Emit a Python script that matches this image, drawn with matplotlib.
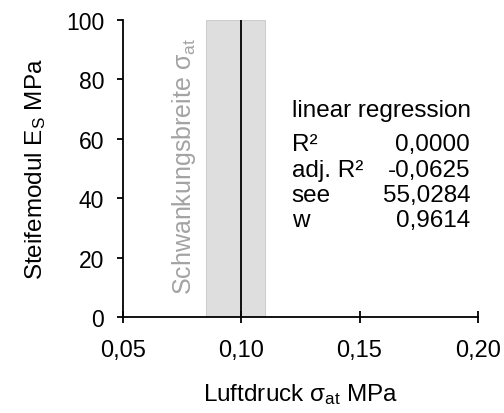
import matplotlib
matplotlib.use("Agg")
import matplotlib.pyplot as plt

plt.rcParams['font.family'] = ['Liberation Sans', 'DejaVu Sans']

# x range / ticks
x_ticks = [0.05, 0.10, 0.15, 0.20]
x_tick_labels = ['0,05', '0,10', '0,15', '0,20']
y_ticks = [0, 20, 40, 60, 80, 100]

# band of atmospheric pressure and its mean
band_lo, band_hi = 0.085, 0.11
sigma_at = 0.10

# regression stats
stat_names = ['R²', 'adj. R²', 'see', 'w']
stat_values = ['0,0000', '-0,0625', '55,0284', '0,9614']

fig = plt.figure(figsize=(5.04, 4.14), dpi=100)
ax = fig.add_axes([0.244, 0.232, 0.704, 0.717])

ax.axvspan(band_lo, band_hi, ymin=0, ymax=1, facecolor='#dedede', edgecolor='#cdcdcd', lw=0.8, zorder=0)
ax.plot([sigma_at, sigma_at], [0, 100], color='black', lw=1.3, zorder=2)

ax.text(0.0757, 94.5, 'Schwankungsbreite $\\mathregular{\\sigma_{at}}$', rotation=90,
        ha='center', va='top', color='#a3a3a3', fontsize=18)

# stats table (baseline positions in data units)
fs = 17.5
ax.text(0.1214, 67.6, 'linear regression', fontsize=fs, ha='left', va='baseline')
for i, (n, v) in enumerate(zip(stat_names, stat_values)):
    y = 56.1 - i * 8.5
    ax.text(0.1214, y, n, fontsize=fs, ha='left', va='baseline')
    ax.text(0.1968, y, v, fontsize=fs, ha='right', va='baseline')

ax.set_xlim(0.05, 0.20)
ax.set_ylim(0, 100)
ax.set_xticks(x_ticks)
ax.set_xticklabels(x_tick_labels)
ax.set_yticks(y_ticks)
for s in ['top', 'right']:
    ax.spines[s].set_visible(False)
for s in ['left', 'bottom']:
    ax.spines[s].set_linewidth(1.3)
ax.tick_params(axis='x', direction='inout', length=8, width=1.3, pad=12, labelsize=17)
ax.tick_params(axis='y', direction='out', length=4.5, width=1.3, pad=9, labelsize=16.5)

ax.set_xlabel('Luftdruck $\\mathregular{\\sigma_{at}}$ MPa', fontsize=17.5, labelpad=14)
ax.set_ylabel('Steifemodul $\\mathregular{E_S}$ MPa', fontsize=17.5, labelpad=13)

fig.savefig('out.png', dpi=100)
